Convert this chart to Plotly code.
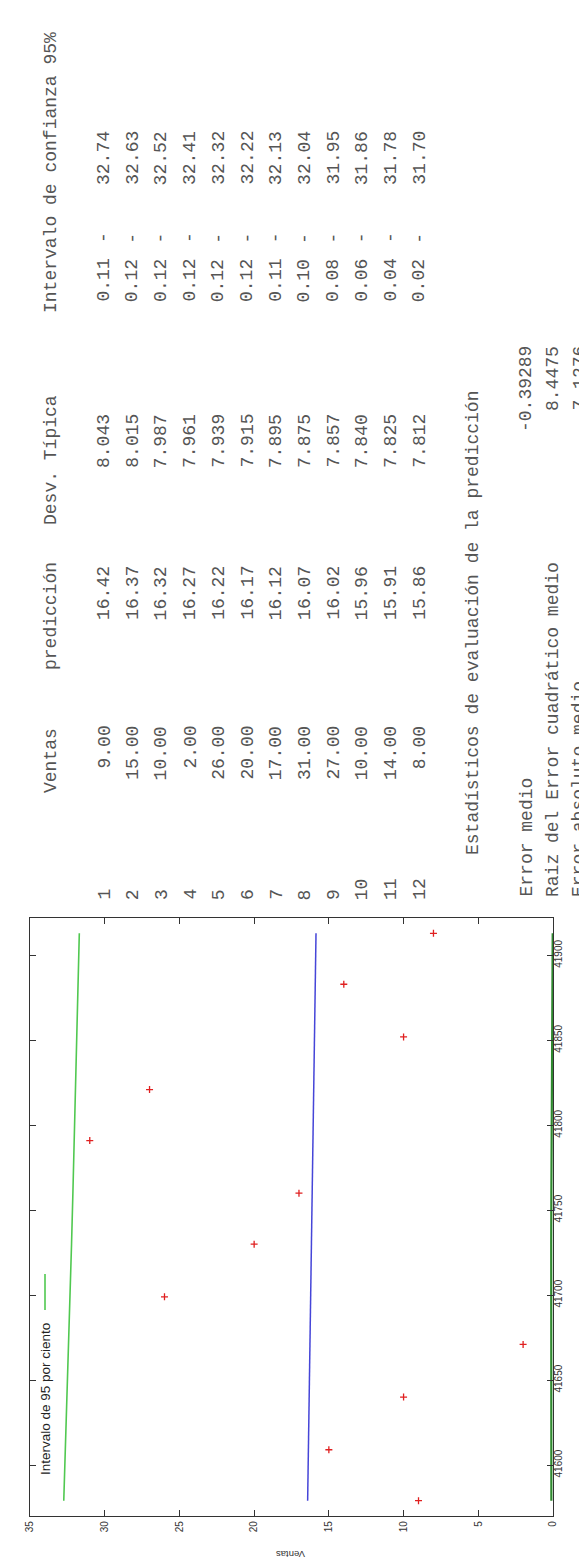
import plotly.graph_objects as go

# ---------------- data ----------------
mes = [41579, 41609, 41640, 41671, 41699, 41730, 41760, 41791, 41821, 41852, 41883, 41913]
ventas = [9, 15, 10, 2, 26, 20, 17, 31, 27, 10, 14, 8]
prediccion = [16.42, 16.37, 16.32, 16.27, 16.22, 16.17, 16.12, 16.07, 16.02, 15.96, 15.91, 15.86]
desv_tipica = [8.043, 8.015, 7.987, 7.961, 7.939, 7.915, 7.895, 7.875, 7.857, 7.840, 7.825, 7.812]
ic_inferior = [0.11, 0.12, 0.12, 0.12, 0.12, 0.12, 0.11, 0.10, 0.08, 0.06, 0.04, 0.02]
ic_superior = [32.74, 32.63, 32.52, 32.41, 32.32, 32.22, 32.13, 32.04, 31.95, 31.86, 31.78, 31.70]
observaciones = list(range(1, 13))

cabeceras = ["Ventas", "predicción", "Desv. Típica", "Intervalo de confianza 95%"]
titulo_estadisticos = "Estadísticos de evaluación de la predicción"
etiquetas_estadisticos = ["Error medio", "Raiz del Error cuadrático medio", "Error absoluto medio"]
valores_estadisticos = ["-0.39289", "8.4475", "7.1276"]

ventas_ticks = [0, 5, 10, 15, 20, 25, 30, 35]
mes_ticks = [41600, 41650, 41700, 41750, 41800, 41850, 41900]
leyenda = "Intervalo de 95 por ciento"

# ---------------- layout geometry (pixels) ----------------
W, H = 587, 1558
L, R, T, B = 22, 545, 910, 1508


def px(x):
    return (x - L) / (R - L)


def py(y):
    return (B - y) / (B - T)


GREEN = "#50c850"
BLUE = "#4545d8"
RED = "#e02020"
TXT = "#555555"
MONO = "Liberation Mono"
MONO_SIZE = 18

fig = go.Figure()
fig.add_trace(go.Scatter(x=ic_superior, y=mes, mode="lines",
                         line=dict(color=GREEN, width=1.6), showlegend=False))
fig.add_trace(go.Scatter(x=ic_inferior, y=mes, mode="lines",
                         line=dict(color="#2f8a2f", width=2.2), showlegend=False))
fig.add_trace(go.Scatter(x=prediccion, y=mes, mode="lines",
                         line=dict(color=BLUE, width=1.5), showlegend=False))
fig.add_trace(go.Scatter(x=ventas, y=mes, mode="markers",
                         marker=dict(symbol="cross-thin", size=5,
                                     line=dict(color=RED, width=1.3)),
                         showlegend=False))

ann = []


def text(x, y, s, yanchor="middle", size=MONO_SIZE, family=MONO, color=TXT, angle=-90,
         xanchor="center"):
    ann.append(dict(x=px(x), y=py(y), xref="paper", yref="paper", text=s,
                    showarrow=False, textangle=angle, xanchor=xanchor, yanchor=yanchor,
                    borderpad=0, font=dict(family=family, size=size, color=color)))


# headers (centred on the reference extents)
hdr_x = 43
hdr_centre = [753, 608, 452, 165]
for h, yc in zip(cabeceras, hdr_centre):
    text(hdr_x, yc, h, yanchor="middle")

# rows
row_x0, row_dx = 96, 28.7
for i in range(len(observaciones)):
    x = row_x0 + i * row_dx
    text(x, 893, str(observaciones[i]), yanchor="bottom")
    text(x, 717, f"{ventas[i]:.2f}", yanchor="top")
    text(x, 557, f"{prediccion[i]:.2f}", yanchor="top")
    text(x, 405, f"{desv_tipica[i]:.3f}", yanchor="top")
    text(x, 250, f"{ic_inferior[i]:.2f}", yanchor="top")
    text(x, 230, "-", yanchor="middle")
    text(x, 122, f"{ic_superior[i]:.2f}", yanchor="top")

# statistics
text(465, 615, titulo_estadisticos, yanchor="middle")
for j, (lab, val) in enumerate(zip(etiquetas_estadisticos, valores_estadisticos)):
    x = 518 + j * 26.5
    text(x, 890, lab, yanchor="bottom")
    text(x, 337, val, yanchor="top")

# chart titles
text(283, 1547, "Ventas", size=9.5, family="Liberation Sans", color="#333", angle=180)
text(575, 1209, "Mes", size=9, family="Liberation Sans", color="#333")
# legend
text(37, 1468, leyenda, yanchor="bottom", size=13.5, family="Liberation Sans", color="#222")

shapes = [dict(type="line", xref="paper", yref="paper", x0=px(37), x1=px(37),
               y0=py(1302), y1=py(1266), line=dict(color=GREEN, width=1.6))]

axis_common = dict(showgrid=False, zeroline=False, showline=True, linecolor="#333",
                   linewidth=1.3, mirror="ticks", ticks="inside", ticklen=6,
                   tickcolor="#333", tickwidth=1.2, automargin=False,
                   tickfont=dict(family="Liberation Sans", size=10, color="#333"))

fig.update_layout(
    width=W, height=H,
    margin=dict(l=L, r=W - R, t=T, b=H - B, pad=0),
    paper_bgcolor="white", plot_bgcolor="white",
    xaxis=dict(range=[35, 0], tickvals=ventas_ticks, tickangle=-90, **axis_common),
    yaxis=dict(range=[41570, 41922], tickvals=mes_ticks, tickformat="d", side="right",
               tickangle=-90, ticklabelstandoff=-4, **axis_common),
    annotations=ann, shapes=shapes, showlegend=False,
)

fig.write_html("out.html")
